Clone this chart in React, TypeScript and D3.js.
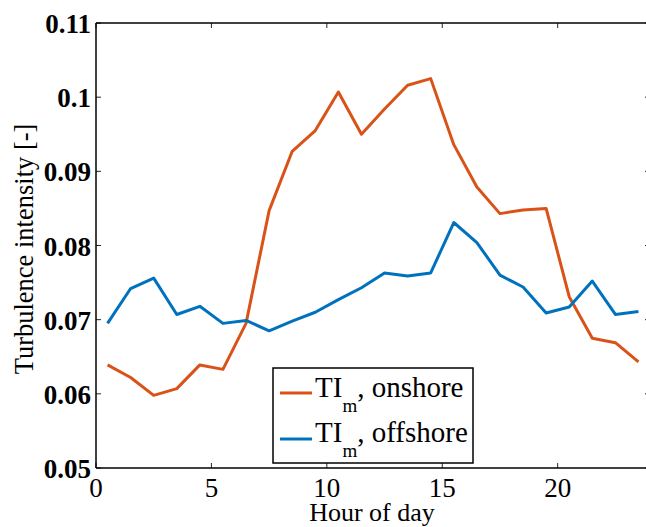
import React from "react";
import * as d3 from "d3";

const hours = [0.5,1.5,2.5,3.5,4.5,5.5,6.5,7.5,8.5,9.5,10.5,11.5,12.5,13.5,14.5,15.5,16.5,17.5,18.5,19.5,20.5,21.5,22.5,23.5];
const onshore = [0.0639,0.0622,0.0598,0.0607,0.0639,0.0633,0.0695,0.0847,0.0927,0.0955,0.1007,0.0950,0.0984,0.1016,0.1025,0.0936,0.0879,0.0843,0.0848,0.0850,0.0731,0.0675,0.0669,0.0643];
const offshore = [0.0695,0.0742,0.0756,0.0707,0.0718,0.0695,0.0699,0.0685,0.0698,0.0710,0.0727,0.0743,0.0763,0.0759,0.0763,0.0831,0.0804,0.0760,0.0744,0.0709,0.0717,0.0752,0.0707,0.0711];
const xTicks = [0,5,10,15,20];
const yTicks = [0.05,0.06,0.07,0.08,0.09,0.1,0.11];
const yTickLabels = ["0.05","0.06","0.07","0.08","0.09","0.1","0.11"];
const colors = { onshore: "#D95319", offshore: "#0072BD" };

export default function App() {
  const W = 646, H = 527;
  const L = 96, R = 650, T = 23, B = 468;
  const x = d3.scaleLinear().domain([0, 24]).range([L, R]);
  const y = d3.scaleLinear().domain([0.05, 0.11]).range([B, T]);
  const line = d3.line<number>().x((_, i) => x(hours[i])).y(d => y(d));
  const fs = { fontFamily: "Liberation Serif, DejaVu Serif, serif" };
  const tl = 5;
  return (
    <svg width={W} height={H} style={{ position: "absolute", left: 0, top: 0 }}>
      <rect x={0} y={0} width={W} height={H} fill="#fff" />
      {xTicks.map(t => (
        <g key={"xt" + t}>
          <line x1={x(t)} x2={x(t)} y1={B} y2={B - tl} stroke="#262626" strokeWidth={1} />
          <line x1={x(t)} x2={x(t)} y1={T} y2={T + tl} stroke="#262626" strokeWidth={1} />
          <text x={x(t)} y={497} textAnchor="middle" fontSize={27} fill="#000" style={fs}>{t}</text>
        </g>
      ))}
      {yTicks.map((t, i) => (
        <g key={"yt" + t}>
          <line x1={L} x2={L + tl} y1={y(t)} y2={y(t)} stroke="#262626" strokeWidth={1} />
          <line x1={R} x2={R - tl} y1={y(t)} y2={y(t)} stroke="#262626" strokeWidth={1} />
          <text x={91} y={y(t) + 10} textAnchor="end" fontSize={27} fontWeight="bold" fill="#000" style={fs}>{yTickLabels[i]}</text>
        </g>
      ))}
      <line x1={L} x2={R} y1={B} y2={B} stroke="#000" strokeWidth={1.5} />
      <line x1={L} x2={R} y1={T} y2={T} stroke="#000" strokeWidth={1.5} />
      <line x1={L} x2={L} y1={T} y2={B} stroke="#000" strokeWidth={1.5} />
      <line x1={R} x2={R} y1={T} y2={B} stroke="#000" strokeWidth={1.5} />
      <path d={line(onshore) || ""} fill="none" stroke={colors.onshore} strokeWidth={3} strokeLinejoin="round" />
      <path d={line(offshore) || ""} fill="none" stroke={colors.offshore} strokeWidth={3} strokeLinejoin="round" />
      <text x={372} y={521} textAnchor="middle" fontSize={26} fill="#000" style={fs}>Hour of day</text>
      <text transform={`translate(33, 249) rotate(-90)`} textAnchor="middle" fontSize={26.5} fill="#000" style={fs}>Turbulence intensity [-]</text>
      <rect x={273} y={368} width={200} height={95} fill="#fff" stroke="#000" strokeWidth={1.5} />
      <line x1={280} x2={312} y1={393} y2={393} stroke={colors.onshore} strokeWidth={3} />
      <line x1={280} x2={312} y1={439} y2={439} stroke={colors.offshore} strokeWidth={3} />
      <text x={315} y={397} fontSize={29} fill="#000" style={fs}>TI<tspan fontSize={19} dy={15}>m</tspan><tspan dy={-15}>, onshore</tspan></text>
      <text x={315} y={442} fontSize={29} fill="#000" style={fs}>TI<tspan fontSize={19} dy={15}>m</tspan><tspan dy={-15}>, offshore</tspan></text>
    </svg>
  );
}
